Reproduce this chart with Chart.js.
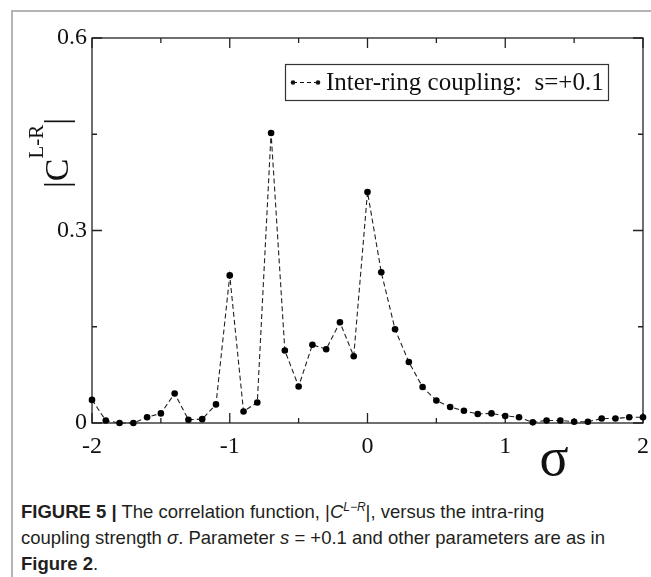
<!DOCTYPE html>
<html><head><meta charset="utf-8">
<script src="https://cdn.jsdelivr.net/npm/chart.js@4.4.0/dist/chart.umd.min.js"></script>
<style>
html,body{margin:0;padding:0;background:#fff;}
#page{position:relative;width:651px;height:577px;overflow:hidden;background:#fff;}
#frameTop{position:absolute;left:11px;top:10px;width:640px;height:2px;background:#b4b4b4;}
#frameLeft{position:absolute;left:11px;top:10px;width:2px;height:567px;background:#b4b4b4;}
#chartBox{position:absolute;left:0;top:0;width:651px;height:485px;}
#caption{position:absolute;left:21px;top:499px;width:625px;font-family:"Liberation Sans",Arial,sans-serif;font-size:18.5px;line-height:26px;color:#231f20;white-space:nowrap;}
#caption sup{font-size:12px;line-height:0;vertical-align:7px;}
</style></head>
<body><div id="page">
<div id="frameTop"></div><div id="frameLeft"></div>
<div id="chartBox"><canvas id="c"></canvas></div>
<div id="caption"><b>FIGURE 5 |</b> The correlation function, |<i>C</i><sup><i>L−R</i></sup>|, versus the intra-ring<br>coupling strength <i>σ</i>. Parameter <i>s</i> = +0.1 and other parameters are as in<br><b>Figure 2</b>.</div>
</div>
<script>
const sigma = [-2.0,-1.9,-1.8,-1.7,-1.6,-1.5,-1.4,-1.3,-1.2,-1.1,-1.0,-0.9,-0.8,-0.7,-0.6,-0.5,-0.4,-0.3,-0.2,-0.1,0.0,0.1,0.2,0.3,0.4,0.5,0.6,0.7,0.8,0.9,1.0,1.1,1.2,1.3,1.4,1.5,1.6,1.7,1.8,1.9,2.0];
const corr = [0.036,0.004,0.000,0.000,0.009,0.015,0.046,0.005,0.006,0.029,0.230,0.018,0.032,0.452,0.113,0.057,0.122,0.115,0.157,0.104,0.360,0.235,0.146,0.095,0.056,0.035,0.025,0.019,0.014,0.015,0.011,0.009,0.001,0.004,0.004,0.002,0.002,0.007,0.007,0.009,0.009];
const xMajor = [-2,-1,0,1,2];
const xMinor = [-1.5,-0.5,0.5,1.5];
const yMajor = [0,0.3,0.6];
const yMinor = [0.15,0.45];
const seriesLabel = 'Inter-ring coupling:  s=+0.1';
const xTitle = 'σ';
const yTitleMain = '|C';
const yTitleSup = 'L-R';
const yTitleEnd = '|';

const SERIF = '"Liberation Serif","Times New Roman",serif';

const framePlugin = {
  id: 'frame',
  beforeDatasetsDraw(chart) {
    const {ctx, chartArea: a, scales: {x, y}} = chart;
    ctx.save();
    ctx.strokeStyle = '#222';
    ctx.lineWidth = 1.3;
    ctx.strokeRect(a.left, a.top, a.right - a.left, a.bottom - a.top);
    const tick = (vals, len) => {
      vals.forEach(v => {
        const px = x.getPixelForValue(v);
        ctx.beginPath();
        ctx.moveTo(px, a.bottom); ctx.lineTo(px, a.bottom - len);
        ctx.moveTo(px, a.top); ctx.lineTo(px, a.top + len);
        ctx.stroke();
      });
    };
    const ytick = (vals, len) => {
      vals.forEach(v => {
        const py = y.getPixelForValue(v);
        ctx.beginPath();
        ctx.moveTo(a.left, py); ctx.lineTo(a.left + len, py);
        ctx.moveTo(a.right, py); ctx.lineTo(a.right - len, py);
        ctx.stroke();
      });
    };
    tick(xMajor, 10); tick(xMinor, 5);
    ytick(yMajor, 10); ytick(yMinor, 5);
    ctx.restore();
  },
  afterDraw(chart) {
    const {ctx} = chart;
    ctx.save();
    ctx.fillStyle = '#111';
    ctx.font = '54px ' + SERIF;
    ctx.textAlign = 'center';
    ctx.textBaseline = 'alphabetic';
    ctx.fillText(xTitle, 554, 475);
    ctx.translate(68, 153);
    ctx.rotate(-Math.PI / 2);
    const fMain = '34px ' + SERIF, fSup = '21px ' + SERIF;
    ctx.font = fMain; const w1 = ctx.measureText(yTitleMain).width; const w3 = ctx.measureText(yTitleEnd).width;
    ctx.font = fSup; const w2 = ctx.measureText(yTitleSup).width;
    let sx = -(w1 + w2 + w3) / 2;
    ctx.textAlign = 'left';
    ctx.font = fMain; ctx.fillText(yTitleMain, sx, 0); sx += w1;
    ctx.font = fSup; ctx.fillText(yTitleSup, sx, -25); sx += w2;
    ctx.font = fMain; ctx.fillText(yTitleEnd, sx, 0);
    ctx.restore();
    ctx.save();
    const lx = 285.5, ly = 64.5, lw = 323, lh = 36;
    ctx.strokeStyle = '#333'; ctx.lineWidth = 1.2;
    ctx.strokeRect(lx, ly, lw, lh);
    const my = ly + lh / 2;
    ctx.setLineDash([4, 3]);
    ctx.strokeStyle = '#111'; ctx.lineWidth = 1.1;
    ctx.beginPath(); ctx.moveTo(293, my); ctx.lineTo(318, my); ctx.stroke();
    ctx.setLineDash([]);
    ctx.fillStyle = '#111';
    [293, 318].forEach(px => { ctx.beginPath(); ctx.arc(px, my, 2.3, 0, Math.PI * 2); ctx.fill(); });
    ctx.font = '25px ' + SERIF;
    ctx.textBaseline = 'middle'; ctx.textAlign = 'left';
    ctx.fillText(chart.data.datasets[0].label, 326, my + 1);
    ctx.restore();
  }
};

new Chart(document.getElementById('c'), {
  type: 'line',
  data: {
    datasets: [{
      label: seriesLabel,
      data: sigma.map((s, i) => ({x: s, y: corr[i]})),
      borderColor: '#222',
      borderWidth: 1.1,
      borderDash: [5, 3],
      pointRadius: 3.3,
      pointBackgroundColor: '#000',
      pointBorderColor: '#000',
      pointBorderWidth: 0,
      tension: 0,
      clip: false
    }]
  },
  options: {
    responsive: true,
    maintainAspectRatio: false,
    animation: false,
    layout: {padding: {left: 0, top: 38, right: 8, bottom: 0}},
    plugins: {legend: {display: false}, tooltip: {enabled: false}},
    scales: {
      x: {
        type: 'linear', min: -2, max: 2,
        grid: {display: false, drawTicks: false, tickLength: 0},
        border: {display: false},
        afterBuildTicks: s => { s.ticks = xMajor.map(v => ({value: v})); },
        afterFit: s => { s.height = 62; s.paddingLeft = 0; s.paddingRight = 0; },
        ticks: {color: '#111', padding: 9, maxRotation: 0, minRotation: 0, font: {family: SERIF, size: 24}, callback: v => String(v)}
      },
      y: {
        min: 0, max: 0.6,
        grid: {display: false, drawTicks: false, tickLength: 0},
        border: {display: false},
        afterBuildTicks: s => { s.ticks = yMajor.map(v => ({value: v})); },
        afterFit: s => { s.width = 92; s.paddingTop = 0; s.paddingBottom = 0; },
        ticks: {color: '#111', padding: 5, font: {family: SERIF, size: 24}, callback: v => (v === 0 ? '0' : String(v))}
      }
    }
  },
  plugins: [framePlugin]
});
</script>
</body></html>
